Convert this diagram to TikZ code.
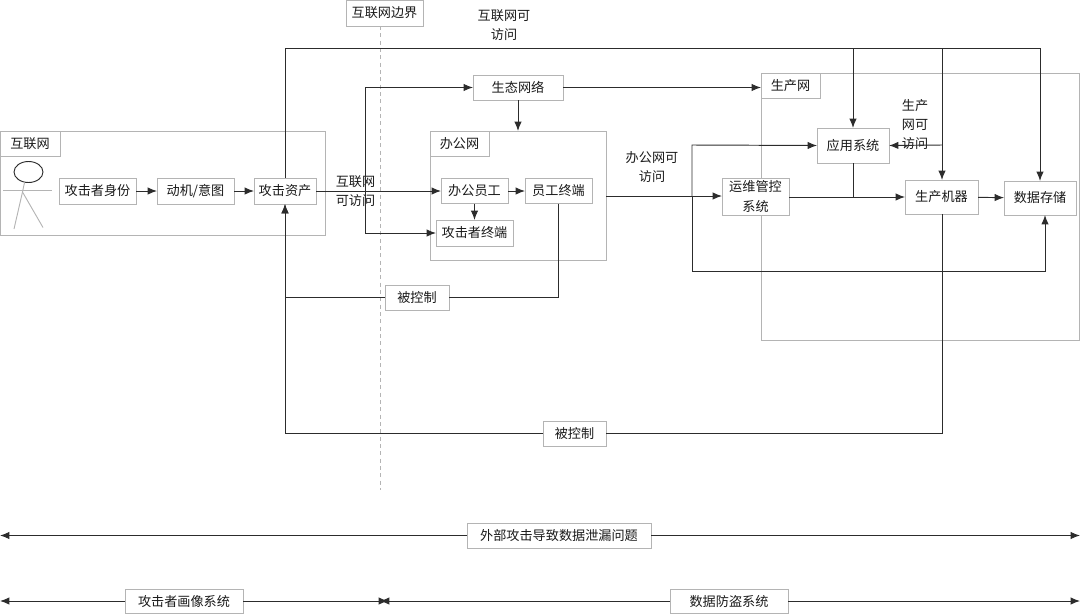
\documentclass[tikz,border=0pt]{standalone}
\usepackage{fontspec}
\setmainfont{Noto Sans CJK SC}
\usetikzlibrary{arrows.meta}
\definecolor{edgegray}{HTML}{B4B4B4}
\definecolor{linedark}{HTML}{2C2C2C}
\definecolor{textdark}{HTML}{1A1A1A}
\tikzset{
  container/.style n args={2}{draw=edgegray,line width=.75pt,minimum width=#1*.75pt,minimum height=#2*.75pt,inner sep=0pt,outer sep=0pt},
  bx/.style n args={2}{draw=edgegray,line width=.75pt,fill=white,minimum width=#1*.75pt,minimum height=#2*.75pt,inner sep=0pt,outer sep=0pt,text=textdark,align=center,font=\fontsize{9.85}{14.5}\selectfont},
  plain/.style={text=textdark,align=center,inner sep=0pt,font=\fontsize{9.85}{14.25}\selectfont},
  conn/.style={draw=linedark,line width=.72pt,-{Latex[length=7pt,width=5.5pt]}},
  wire/.style={draw=linedark,line width=.72pt},
  stick/.style={draw=edgegray,line width=.7pt}
}
\begin{document}
\begin{tikzpicture}[x=.75pt,y=-.75pt]
\useasboundingbox (0,0) rectangle (1080,614);
% containers
\node[container={325}{104}] (netbox) at (162.5,183) {};
\node[container={176}{129}] (officebox) at (518,195.5) {};
\node[container={318}{267}] (prodbox) at (920,206.5) {};
% boundary
\coordinate (bstart) at (380,26);
\coordinate (bend) at (380,490);
\draw[stick,dash pattern=on 3pt off 2.5pt,line width=.6pt] (bstart) -- (bend);
% actor
\draw[draw=linedark,line width=.7pt] (28.5,172) ellipse (14.5 and 10.5);
\draw[stick] (3,190.5) -- (52,190.5);
\draw[stick] (24.5,182.5) -- (22.5,192) -- (14,229);
\draw[stick] (22.5,192) -- (43,227.5);
% boxes
\node[bx={60}{25}] (netlabel) at (30,143.5) {互联网};
\node[bx={59}{25}] (officelabel) at (459.5,143.5) {办公网};
\node[bx={59}{25}] (prodlabel) at (790.5,85.5) {生产网};
\node[bx={77}{26}] (border) at (384.5,13) {互联网边界};
\node[bx={77}{26}] (identity) at (97.5,191) {攻击者身份};
\node[bx={77}{26}] (motive) at (195.5,191) {动机/意图};
\node[bx={62}{26}] (asset) at (285,191) {攻击资产};
\node[bx={90}{25}] (eco) at (518,87.5) {生态网络};
\node[bx={67}{25}] (staff) at (474.5,191) {办公员工};
\node[bx={67}{25}] (staffpc) at (558.5,191) {员工终端};
\node[bx={77}{26}] (attackpc) at (474.5,233) {攻击者终端};
\node[bx={67}{37}] (ops) at (755.5,196.5) {运维管控\\系统};
\node[bx={72}{35}] (app) at (853,145.5) {应用系统};
\node[bx={73}{34}] (prodm) at (941.5,197) {生产机器};
\node[bx={72}{34}] (store) at (1040,198) {数据存储};
\node[bx={64}{25}] (ctrlA) at (417,297.5) {被控制};
\node[bx={63}{25}] (ctrlB) at (574.5,433.5) {被控制};
\node[bx={184}{25}] (issue) at (559,535.5) {外部攻击导致数据泄漏问题};
\node[bx={118}{24}] (profile) at (184,601) {攻击者画像系统};
\node[bx={118}{24}] (defend) at (729,601) {数据防盗系统};
% free labels
\node[plain] (lblnet) at (504,25.5) {互联网可\\访问};
\node[plain] (lblnet2) at (355.5,191.5) {互联网\\可访问};
\node[plain] (lbloffice) at (652,167.5) {办公网可\\访问};
\node[plain] (lblprod) at (915,125) {生产\\网可\\访问};
% junctions
\coordinate (top) at (285,48);
\coordinate (mid) at (365,191);
\coordinate (opsj) at (692,196);
\coordinate (rowA) at (692,145);
\coordinate (rowB) at (692,271);
\coordinate (storein) at (1045,215);
\coordinate (prodj) at (942,145);
\coordinate (appj) at (853,197);
\coordinate (top2) at (853,48.5);
\coordinate (top3) at (942,48.5);
% connectors
\draw[conn] (identity) -- (motive);
\draw[conn] (motive) -- (asset);
\draw[conn] (asset.east) -- (staff.west);
\draw[conn] (staff) -- (staffpc);
\draw[conn] (staff.south) -- (attackpc.north);
\draw[conn] (mid |- eco.west) -- (eco.west);
\draw[wire] (mid |- eco.west) -- (mid |- attackpc.west);
\draw[conn] (mid |- attackpc.west) -- (attackpc.west);
\draw[conn] (eco.south) -- (eco.south |- officebox.north);
\draw[conn] (eco.east) -- (eco.east -| prodbox.west);
\draw[wire] (asset.north) -- (top) -- (top -| store.north);
\draw[conn] (top -| store.north) -- (store.north);
\draw[conn] (top2) -- (app.north);
\draw[conn] (top3) -- (prodj) -- (prodj |- prodm.north);
\draw[conn] (prodj) -- (app.east);
\draw[conn] (officebox.east |- opsj) -- (ops.west |- opsj);
\draw[conn] (opsj) -- (rowA) -- (app.west);
\draw[conn] (opsj) -- (rowB) -- (storein |- rowB) -- (storein);
\draw[conn] (ops.east |- prodm.west) -- (prodm.west);
\draw[wire] (app.south) -- (appj);
\draw[conn] (prodm) -- (store);
\draw[wire] (staffpc.south) |- (ctrlA.east);
\draw[conn] (ctrlA.west) -| (asset.south);
\draw[wire] (prodj |- prodm.south) |- (ctrlB.east);
\draw[conn] (ctrlB.west) -| (asset.south);
% scope lanes
\coordinate (laneL) at (0,535.5);
\coordinate (laneR) at (1080,535.5);
\coordinate (lowL) at (0,601);
\coordinate (lowM) at (388,601);
\coordinate (lowN) at (380,601);
\coordinate (lowR) at (1080,601);
\draw[conn] (issue.west) -- (laneL);
\draw[conn] (issue.east) -- (laneR);
\draw[conn] (profile.west) -- (lowL);
\draw[conn] (profile.east) -- (lowM);
\draw[conn] (defend.west) -- (lowN);
\draw[conn] (defend.east) -- (lowR);
\end{tikzpicture}
\end{document}
